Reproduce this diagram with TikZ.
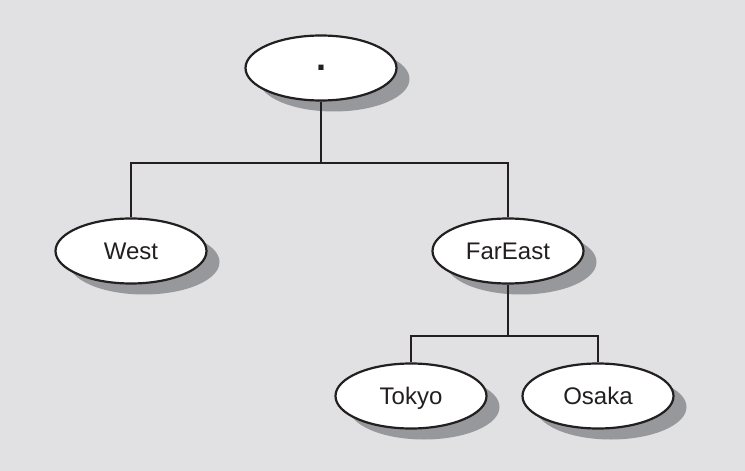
\documentclass[tikz,border=0pt]{standalone}
\usepackage{fontspec}
\setmainfont{Liberation Sans}
\usepackage{tikz}
\usetikzlibrary{shapes.geometric, shadows}
\usepackage{xcolor}
\definecolor{bggray}{HTML}{E1E1E3}
\definecolor{shadowgray}{HTML}{97989C}
\definecolor{inkblack}{HTML}{231F20}

\begin{document}
\begin{tikzpicture}[x=1pt, y=-1pt,
    zone/.style={ellipse, draw=inkblack, line width=2.2pt, fill=white,
        minimum width=151pt, minimum height=65pt, inner sep=0pt,
        font=\fontsize{24}{24}\selectfont, text=inkblack,
        text height=17pt, text depth=0pt,
        drop shadow={shadow xshift=13pt, shadow yshift=-11pt, fill=shadowgray, opacity=1}},
    link/.style={draw=inkblack, line width=1.1pt}]

    % Background and bounding box
    \fill[bggray] (0,0) rectangle (745,471);
    \useasboundingbox (0,0) rectangle (745,471);

    % Draw the zones of the tree
    \node[zone, font=\fontsize{36}{36}\bfseries, text height=, text depth=] (root) at (321,68) {.};
    \node[zone] (west) at (131,251) {West};
    \node[zone] (fareast) at (508,251) {FarEast};
    \node[zone] (tokyo) at (411,396) {Tokyo};
    \node[zone] (osaka) at (598,396) {Osaka};

    % Branch points
    \coordinate (split1) at (321,163);
    \coordinate (split2) at (508,336);

    % Draw the connectors
    \draw[link] (root.south) -- (split1);
    \draw[link] (west.north) |- (split1) -| (fareast.north);
    \draw[link] (fareast.south) -- (split2);
    \draw[link] (tokyo.north) |- (split2) -| (osaka.north);
\end{tikzpicture}
\end{document}
